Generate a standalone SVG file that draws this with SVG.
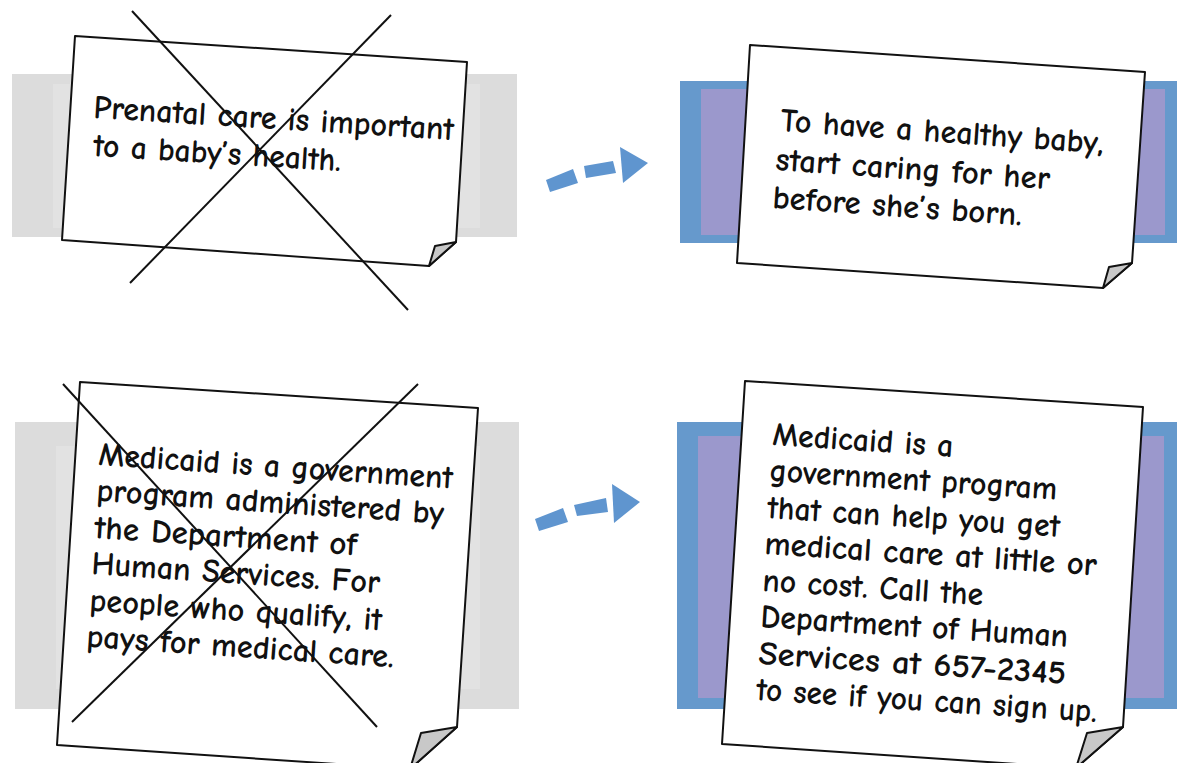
<svg xmlns="http://www.w3.org/2000/svg" width="1177" height="763" viewBox="0 0 1177 763">
<style>
.band-g{fill:#dcdcdc}
.band-gi{fill:#e2e2e2}
.band-b{fill:#6699cc}
.band-bi{fill:#9b98cc}
.paper{fill:#ffffff;stroke:#111111;stroke-width:2;stroke-linejoin:round}
.fold{fill:#c8c8c8;stroke:#111111;stroke-width:2;stroke-linejoin:round}
.cross{stroke:#111111;stroke-width:2;fill:none}
.txt{font-family:"Comic Sans MS","Comic Neue","Noto Sans","DejaVu Sans",sans-serif;font-size:33px;font-weight:700;fill:#111111}
.arrow{fill:#5f95cf}
</style>
<rect width="1177" height="763" fill="#ffffff"/>

<g id="old-message-1">
  <rect class="band-g" x="12" y="74" width="505" height="163"/>
  <rect class="band-gi" x="53" y="84" width="427" height="144"/>
  <path class="paper" d="M75,36 L467,62 L456,242 L429,266 L62,240 Z"/>
  <path class="fold" d="M456,242 L435,246 L429,266 Z"/>
  <text class="txt" x="93" y="118" transform="rotate(3.5 93 118)" textLength="361" lengthAdjust="spacingAndGlyphs">Prenatal care is important</text>
  <text class="txt" x="93" y="156" transform="rotate(3.5 93 156)" textLength="248" lengthAdjust="spacingAndGlyphs">to a baby’s health.</text>
  <line class="cross" x1="132" y1="11" x2="408" y2="310"/>
  <line class="cross" x1="391" y1="15" x2="130" y2="283"/>
</g>

<g id="new-message-1">
  <rect class="band-b" x="680" y="81" width="497" height="162"/>
  <rect class="band-bi" x="701" y="89" width="464" height="146"/>
  <path class="paper" d="M750,45 L1145,72 L1132,263 L1103,288 L737,263 Z"/>
  <path class="fold" d="M1132,263 L1109,267 L1103,288 Z"/>
  <text class="txt" x="780" y="131" transform="rotate(4 780 131)" textLength="324" lengthAdjust="spacingAndGlyphs">To have a healthy baby,</text>
  <text class="txt" x="775" y="170" transform="rotate(4 775 170)" textLength="275" lengthAdjust="spacingAndGlyphs">start caring for her</text>
  <text class="txt" x="772" y="208" transform="rotate(4 772 208)" textLength="250" lengthAdjust="spacingAndGlyphs">before she’s born.</text>
</g>

<g id="old-message-2">
  <rect class="band-g" x="15" y="422" width="504" height="287"/>
  <rect class="band-gi" x="56" y="446" width="424" height="243"/>
  <path class="paper" d="M80,382 L478,408 L457,727 L410,769 L57,745 Z"/>
  <path class="fold" d="M457,727 L421,733 L410,769 Z"/>
  <text class="txt" x="98" y="465" transform="rotate(3.8 98 465)" textLength="355" lengthAdjust="spacingAndGlyphs">Medicaid is a government</text>
  <text class="txt" x="96" y="501" transform="rotate(3.8 96 501)" textLength="348" lengthAdjust="spacingAndGlyphs">program administered by</text>
  <text class="txt" x="94" y="538" transform="rotate(3.8 94 538)" textLength="263" lengthAdjust="spacingAndGlyphs">the Department of</text>
  <text class="txt" x="91" y="574" transform="rotate(3.8 91 574)" textLength="289" lengthAdjust="spacingAndGlyphs">Human Services. For</text>
  <text class="txt" x="89" y="611" transform="rotate(3.8 89 611)" textLength="293" lengthAdjust="spacingAndGlyphs">people who qualify, it</text>
  <text class="txt" x="86" y="647" transform="rotate(3.8 86 647)" textLength="308" lengthAdjust="spacingAndGlyphs">pays for medical care.</text>
  <line class="cross" x1="63" y1="384" x2="377" y2="727"/>
  <line class="cross" x1="418" y1="384" x2="72" y2="722"/>
</g>

<g id="new-message-2">
  <rect class="band-b" x="677" y="422" width="500" height="287"/>
  <rect class="band-bi" x="698" y="436" width="466" height="262"/>
  <path class="paper" d="M745,381 L1143,407 L1123,727 L1076,768 L722,744 Z"/>
  <path class="fold" d="M1123,727 L1087,733 L1076,768 Z"/>
  <text class="txt" x="772" y="445" transform="rotate(3.7 772 445)" textLength="181" lengthAdjust="spacingAndGlyphs">Medicaid is a</text>
  <text class="txt" x="769" y="481" transform="rotate(3.7 769 481)" textLength="288" lengthAdjust="spacingAndGlyphs">government program</text>
  <text class="txt" x="767" y="518" transform="rotate(3.7 767 518)" textLength="293" lengthAdjust="spacingAndGlyphs">that can help you get</text>
  <text class="txt" x="764" y="554" transform="rotate(3.7 764 554)" textLength="333" lengthAdjust="spacingAndGlyphs">medical care at little or</text>
  <text class="txt" x="762" y="591" transform="rotate(3.7 762 591)" textLength="221" lengthAdjust="spacingAndGlyphs">no cost. Call the</text>
  <text class="txt" x="760" y="627" transform="rotate(3.7 760 627)" textLength="308" lengthAdjust="spacingAndGlyphs">Department of Human</text>
  <text class="txt" x="758" y="664" transform="rotate(3.7 758 664)" textLength="308" lengthAdjust="spacingAndGlyphs">Services at 657-2345</text>
  <text class="txt" x="756" y="700" transform="rotate(3.7 756 700)" textLength="341" lengthAdjust="spacingAndGlyphs">to see if you can sign up.</text>
</g>

<g id="connectors">
  <g id="arrow-1">
    <polygon class="arrow" points="546,180 573,169 578,183 550,192"/>
    <polygon class="arrow" points="584,166 613,161 616,173 586,178"/>
    <polygon class="arrow" points="620,147 648,163 623,183"/>
  </g>
  <g id="arrow-2">
    <polygon class="arrow" points="535,519 563,508 568,522 539,531"/>
    <polygon class="arrow" points="574,505 606,498 608,512 577,516"/>
    <polygon class="arrow" points="612,484 640,502 614,523"/>
  </g>
</g>
</svg>
